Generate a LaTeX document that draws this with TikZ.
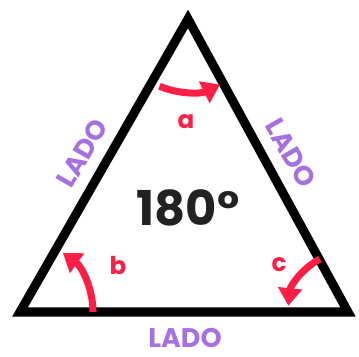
\documentclass[tikz,border=0pt]{standalone}
\usepackage{fontspec}
\setmainfont{Poppins}
\usepackage{tikz}
\usetikzlibrary{arrows.meta}
\definecolor{ladopurple}{RGB}{167,112,224}
\definecolor{anglered}{RGB}{255,30,70}
\definecolor{sumgray}{RGB}{34,34,34}

\begin{document}
\begin{tikzpicture}[x=0.03cm, y=-0.03cm,
  side/.style={line width=7.7pt, line join=miter},
  lado/.style={text=ladopurple, font=\bfseries\fontsize{23}{23}\selectfont, inner sep=0pt},
  anglbl/.style={text=anglered, font=\bfseries\fontsize{21}{21}\selectfont, inner sep=0pt},
  turn/.style={draw=anglered, line width=6pt, -{Triangle[length=15pt, width=20pt]}}
]
\useasboundingbox (0,0) rectangle (359,356);
\coordinate (A) at (188,19);
\coordinate (B) at (20,312);
\coordinate (C) at (348,312);

% triangle
\draw[side] (A) -- (B) -- (C) -- cycle;

% sides
\node[lado, rotate=60] (ladoleft) at (82,153) {LADO};
\node[lado, rotate=-60] (ladoright) at (291,153) {LADO};
\node[lado] (ladobottom) at (185,338) {LADO};

% sum
\node[text=sumgray, font=\bfseries\fontsize{41}{41}\selectfont, inner sep=0pt] (sum) at (188,208) {180°};

% angles
\node[anglbl] (la) at (186,122) {a};
\node[anglbl] (lb) at (118,265) {b};
\node[anglbl] (lc) at (279,265) {c};

\draw[turn] ([shift={(113:73)}]A) arc[start angle=113, end angle=64, radius=73];
\draw[turn] ([shift={(0:73)}]B) arc[start angle=0, end angle=-54, radius=73];
\draw[turn] ([shift={(-118:60)}]C) arc[start angle=-118, end angle=-174, radius=60];
\end{tikzpicture}
\end{document}
